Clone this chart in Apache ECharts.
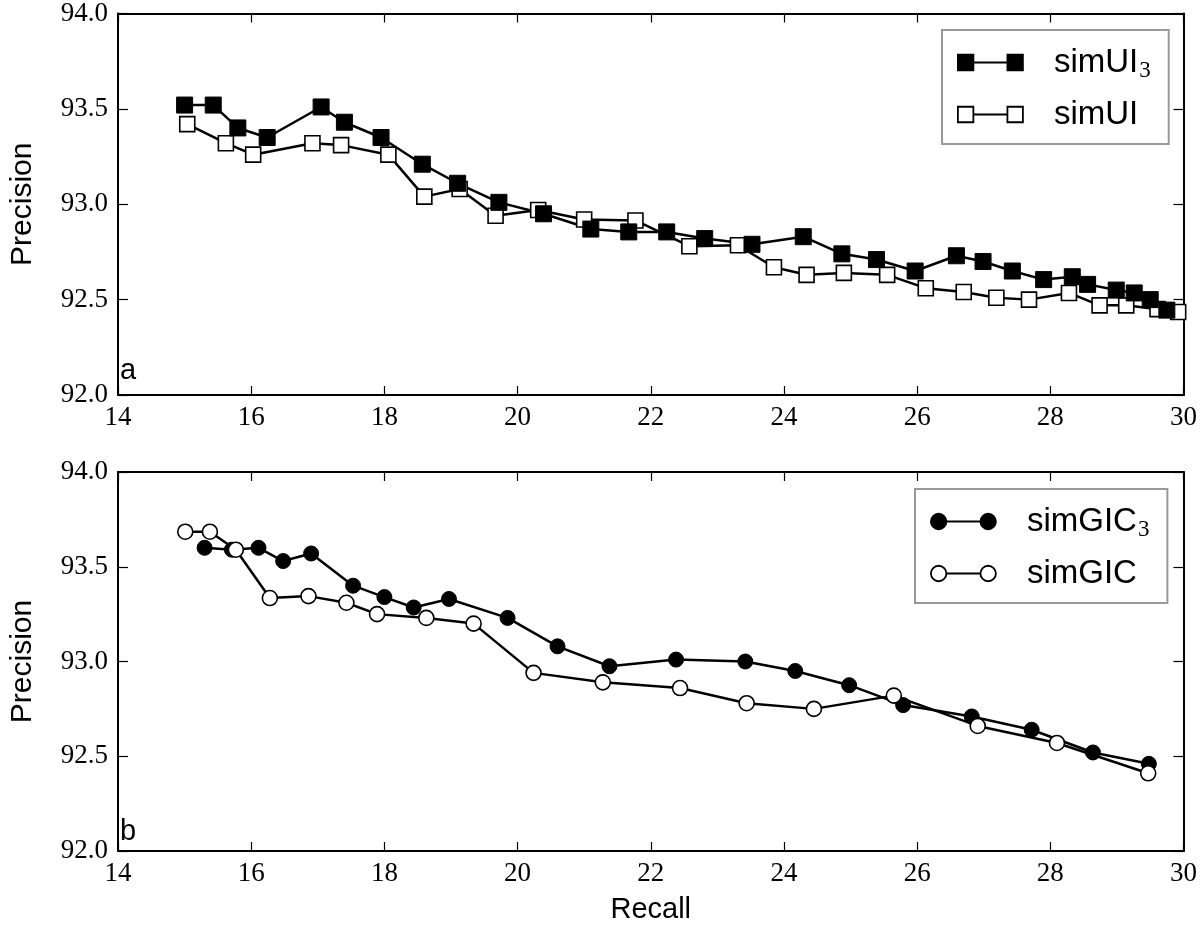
<!DOCTYPE html>
<html>
<head>
<meta charset="utf-8">
<script src="https://cdn.jsdelivr.net/npm/echarts@6/dist/echarts.min.js"></script>
<style>
html,body{margin:0;padding:0;background:#fff;}
#chart{width:1200px;height:925px;}
</style>
</head>
<body>
<div id="chart"></div>
<script>
// ---- data ----
const xTicks = [14, 16, 18, 20, 22, 24, 26, 28, 30];
const yTicks = [92.0, 92.5, 93.0, 93.5, 94.0];

const uiRecall3 = [15.00,15.43,15.80,16.24,17.05,17.40,17.95,18.57,19.10,19.72,20.39,21.10,21.67,22.24,22.81,23.52,24.29,24.87,25.39,25.97,26.59,26.99,27.43,27.90,28.33,28.56,28.99,29.26,29.50,29.75];
const uiPrec3   = [93.52,93.52,93.40,93.35,93.51,93.43,93.35,93.21,93.11,93.01,92.95,92.87,92.855,92.855,92.82,92.79,92.83,92.74,92.71,92.65,92.73,92.70,92.65,92.605,92.62,92.58,92.55,92.535,92.50,92.445];

const uiRecall = [15.04,15.62,16.03,16.92,17.35,18.06,18.60,19.13,19.67,20.31,21.00,21.77,22.58,23.31,23.85,24.34,24.90,25.55,26.13,26.70,27.19,27.68,28.28,28.74,29.14,29.61,29.92];
const uiPrec   = [93.42,93.32,93.26,93.32,93.31,93.26,93.04,93.08,92.94,92.97,92.92,92.915,92.78,92.785,92.67,92.63,92.64,92.63,92.56,92.54,92.51,92.50,92.535,92.47,92.47,92.45,92.435];

const gicRecall3 = [15.30,15.71,16.11,16.48,16.90,17.53,18.00,18.44,18.97,19.85,20.60,21.38,22.38,23.42,24.17,24.98,25.79,26.82,27.72,28.64,29.48];
const gicPrec3   = [93.60,93.59,93.60,93.53,93.57,93.40,93.34,93.285,93.33,93.23,93.08,92.975,93.01,93.00,92.95,92.875,92.77,92.71,92.64,92.52,92.46];

const gicRecall = [15.01,15.38,15.77,16.28,16.86,17.43,17.89,18.63,19.34,20.24,21.28,22.44,23.44,24.45,25.65,26.91,28.10,29.47];
const gicPrec   = [93.685,93.685,93.59,93.335,93.345,93.31,93.25,93.23,93.20,92.94,92.89,92.86,92.78,92.75,92.82,92.66,92.57,92.41];

const seriesNames = ['simUI3', 'simUI', 'simGIC3', 'simGIC'];
const panelLabels = ['a', 'b'];
const xName = 'Recall';
const yName = 'Precision';

// ---- helpers ----
const zip = (xs, ys) => xs.map((x, i) => [x, ys[i]]);
const serif = 'Liberation Serif';
const sans = 'Liberation Sans';

const grids = [
  {left: 100, top: 13, width: 1088, height: 382},
  {left: 100, top: 472, width: 1088, height: 381}
];

function xAx(gi, pos, labels, name) {
  return {
    type: 'value', gridIndex: gi, position: pos,
    min: xTicks[0], max: xTicks[xTicks.length - 1], interval: 2,
    axisLine: {show: true, lineStyle: {color: '#000', width: 2}},
    axisTick: {show: true, inside: true, length: 9, lineStyle: {color: '#000', width: 1.2}},
    axisLabel: {show: labels, color: '#000', fontFamily: serif, fontSize: 27, margin: 9},
    splitLine: {show: false},
    name: name || '', nameLocation: 'middle', nameGap: 44,
    nameTextStyle: {color: '#000', fontFamily: sans, fontSize: 29}
  };
}
function yAx(gi, pos, labels, name) {
  return {
    type: 'value', gridIndex: gi, position: pos,
    min: yTicks[0], max: yTicks[yTicks.length - 1], interval: 0.5,
    axisLine: {show: true, lineStyle: {color: '#000', width: 2}},
    axisTick: {show: true, inside: true, length: 10, lineStyle: {color: '#000', width: 1.2}},
    axisLabel: {show: labels, color: '#000', fontFamily: serif, fontSize: 27, margin: 10,
      formatter: v => v.toFixed(1)},
    splitLine: {show: false},
    name: name || '', nameLocation: 'middle', nameGap: 80,
    nameTextStyle: {color: '#000', fontFamily: sans, fontSize: 30}
  };
}

const sqPath = 'path://M1 1H16V16H1ZM16 8.5H49M49 1H64V16H49Z';
const circPath = 'path://M1 8.5A7.5 7.5 0 1 0 16 8.5A7.5 7.5 0 1 0 1 8.5ZM16 8.5H49M49 8.5A7.5 7.5 0 1 0 64 8.5A7.5 7.5 0 1 0 49 8.5Z';

function legendFor(gi, names, icon, left, top, padRight) {
  return {
    orient: 'vertical', left: left, top: top,
    padding: [13, padRight, 13, 15],
    backgroundColor: '#fff', borderColor: '#999', borderWidth: 2, borderRadius: 0,
    itemWidth: 65, itemHeight: 17, itemGap: 16,
    selectedMode: false,
    data: [
      {name: names[0], icon: icon, itemStyle: {color: '#000', borderColor: '#000', borderWidth: 1.8}},
      {name: names[1], icon: icon, itemStyle: {color: '#fff', borderColor: '#000', borderWidth: 1.8}}
    ],
    formatter: n => n.endsWith('3') ? '{t|' + n.slice(0, -1) + '}{s|3}' : '{t|' + n + '}',
    textStyle: {
      padding: [0, 0, 0, 26],
      rich: {
        t: {fontFamily: sans, fontSize: 33, color: '#000', lineHeight: 36},
        s: {fontFamily: serif, fontSize: 23, color: '#000', padding: [16, 0, 0, 1], lineHeight: 36}
      }
    }
  };
}

function lineSeries(name, data, xi, yi, symbol, size, filled) {
  return {
    type: 'line', name: name, data: data, xAxisIndex: xi, yAxisIndex: yi,
    symbol: symbol, symbolSize: size, showSymbol: true,
    lineStyle: {color: '#000', width: 2.5},
    itemStyle: {color: filled ? '#000' : '#fff', borderColor: '#000', borderWidth: filled ? 1 : 1.6},
    animation: false, clip: true,
    emphasis: {disabled: true}
  };
}

const option = {
  backgroundColor: '#fff',
  animation: false,
  grid: grids,
  title: [
    {text: panelLabels[0], left: 120, top: 356, padding: 0, textStyle: {fontFamily: sans, fontSize: 29, fontWeight: 'normal', color: '#000'}},
    {text: panelLabels[1], left: 120, top: 817, padding: 0, textStyle: {fontFamily: sans, fontSize: 29, fontWeight: 'normal', color: '#000'}}
  ],
  xAxis: [xAx(0, 'bottom', true), xAx(0, 'top', false), xAx(1, 'bottom', true, xName), xAx(1, 'top', false)],
  yAxis: [yAx(0, 'left', true, yName), yAx(0, 'right', false), yAx(1, 'left', true, yName), yAx(1, 'right', false)],
  legend: [
    legendFor(0, [seriesNames[0], seriesNames[1]], sqPath, 942, 30, 18),
    legendFor(1, [seriesNames[2], seriesNames[3]], circPath, 915, 489, 18)
  ],
  series: [
    lineSeries(seriesNames[1], zip(uiRecall, uiPrec), 0, 0, 'rect', 15, false),
    lineSeries(seriesNames[0], zip(uiRecall3, uiPrec3), 0, 0, 'rect', 16, true),
    lineSeries(seriesNames[2], zip(gicRecall3, gicPrec3), 2, 2, 'circle', 15, true),
    lineSeries(seriesNames[3], zip(gicRecall, gicPrec), 2, 2, 'circle', 15, false)
  ]
};

const chart = echarts.init(document.getElementById('chart'), null, {renderer: 'canvas'});
chart.setOption(option);
</script>
</body>
</html>
